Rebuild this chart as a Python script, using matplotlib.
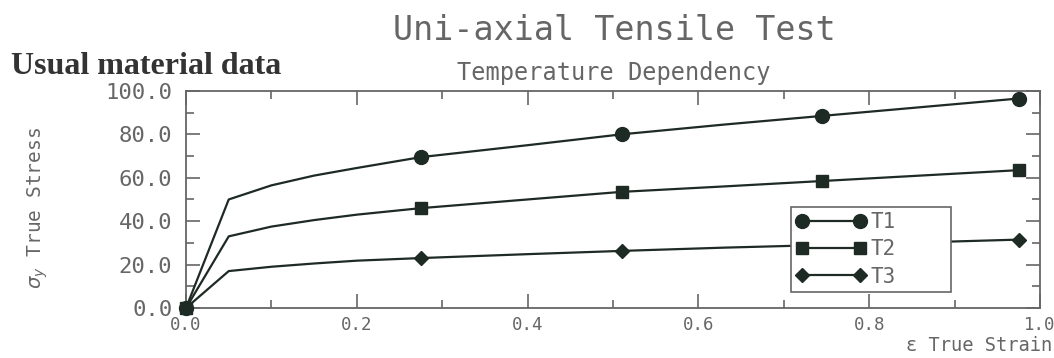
import matplotlib.pyplot as plt
from matplotlib.ticker import MultipleLocator

# ==================== DATA ====================
strain = [0.0, 0.05, 0.10, 0.15, 0.20, 0.275, 0.40, 0.51, 0.63, 0.745, 0.86, 0.975]
t1_stress = [0.0, 50.0, 56.5, 61.0, 64.5, 69.5, 75.0, 80.0, 84.5, 88.5, 92.5, 96.5]
t2_stress = [0.0, 33.0, 37.5, 40.5, 43.0, 46.0, 50.0, 53.5, 56.0, 58.5, 61.0, 63.5]
t3_stress = [0.0, 17.0, 19.0, 20.5, 21.8, 23.0, 24.8, 26.3, 27.8, 29.0, 30.2, 31.5]
labels = ["T1", "T2", "T3"]
marked = [0, 5, 7, 9, 11]   # points that carry a marker
# ==============================================

LINE = "#1e2a24"
GREY = "#666666"
MONO = "DejaVu Sans Mono"

fig = plt.figure(figsize=(10.54, 3.58), dpi=100)
ax = fig.add_axes([0.1765, 0.1397, 0.8102, 0.6063])

styles = [("o", 10), ("s", 8), ("D", 7)]
for y, lab, (m, ms) in zip([t1_stress, t2_stress, t3_stress], labels, styles):
    ax.plot(strain, y, color=LINE, linewidth=1.6, marker=m, markersize=ms,
            markevery=marked, markerfacecolor=LINE, markeredgecolor=LINE,
            label=lab, clip_on=False, zorder=3)

ax.set_xlim(0, 1.0)
ax.set_ylim(0, 100)
ax.xaxis.set_major_locator(MultipleLocator(0.2))
ax.xaxis.set_minor_locator(MultipleLocator(0.1))
ax.yaxis.set_major_locator(MultipleLocator(20))
ax.yaxis.set_minor_locator(MultipleLocator(10))
ax.tick_params(which="both", direction="in", top=True, right=True,
               color=GREY, labelcolor=GREY)
ax.tick_params(which="major", length=10, width=1.2)
ax.tick_params(which="minor", length=6, width=1.2)
ax.tick_params(axis="x", pad=6)
ax.tick_params(axis="y", pad=10)
ax.xaxis.set_major_formatter(plt.FuncFormatter(lambda v, p: f"{v:.1f}"))
ax.yaxis.set_major_formatter(plt.FuncFormatter(lambda v, p: f"{v:.1f}"))
for t in ax.get_xticklabels():
    t.set_fontfamily(MONO)
    t.set_fontsize(12.5)
for t in ax.get_yticklabels():
    t.set_fontfamily(MONO)
    t.set_fontsize(16)
for s in ax.spines.values():
    s.set_color(GREY)
    s.set_linewidth(1.3)

leg = ax.legend(loc="lower left", bbox_to_anchor=(0.708, 0.074, 0.188, 0.39),
                mode="expand", handlelength=3.4, prop={"family": MONO, "size": 15},
                frameon=True, fancybox=False, edgecolor=GREY, framealpha=1,
                borderpad=0.25, labelspacing=0.35, handletextpad=0.2,
                numpoints=2, borderaxespad=0)
leg.get_frame().set_linewidth(1.2)
for t in leg.get_texts():
    t.set_color(GREY)

fig.text(0.583, 0.915, "Uni-axial Tensile Test", ha="center", va="center",
         fontsize=24, color=GREY, family=MONO)
fig.text(0.582, 0.795, "Temperature Dependency", ha="center", va="center",
         fontsize=17, color=GREY, family=MONO)
fig.text(0.01, 0.815, "Usual material data", ha="left", va="center",
         fontsize=23, fontweight="bold", family="Liberation Serif", color="#333333")
fig.text(0.036, 0.42, r"$\sigma_y$ True Stress", rotation=90, ha="center",
         va="center", fontsize=14, color=GREY, family=MONO)
fig.text(0.998, 0.034, "\u03b5 True Strain", ha="right", va="center",
         fontsize=13.5, color=GREY, family=MONO)

fig.savefig("out.png", dpi=100)
